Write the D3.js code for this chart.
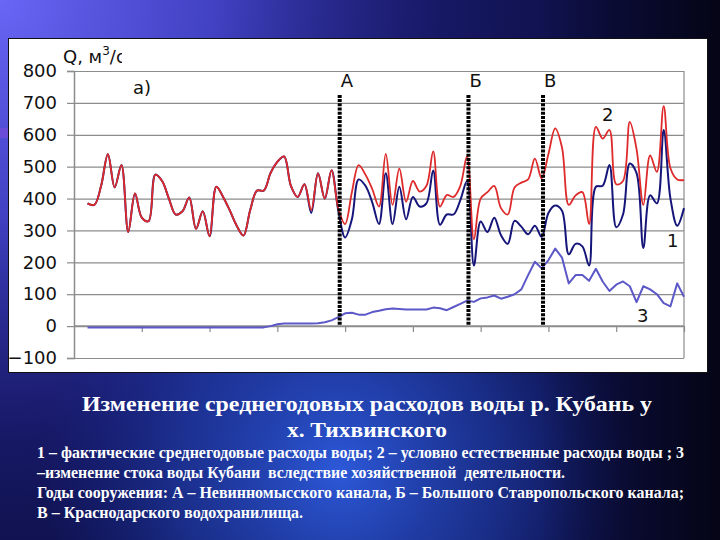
<!DOCTYPE html>
<html><head><meta charset="utf-8">
<script src="https://cdn.jsdelivr.net/npm/d3@7"></script>
<style>html,body{margin:0;padding:0;background:#0a0a30;}svg{display:block;}</style>
</head><body>
<svg id="c" width="720" height="540"></svg>
<script>
// ---- data ----
const years = [1911,1912,1913,1914,1915,1916,1917,1918,1919,1920,1921,1922,1923,1924,1925,1926,1927,1928,1929,1930,
1931,1932,1933,1934,1935,1936,1937,1938,1939,1940,1941,1942,1943,1944,1945,1946,1947,1948,1949,1950,
1951,1952,1953,1954,1955,1956,1957,1958,1959,1960,1961,1962,1963,1964,1965,1966,1967,1968,1969,1970,
1971,1972,1973,1974,1975,1976,1977,1978,1979,1980,1981,1982,1983,1984,1985,1986,1987,1988,1989,1990,
1991,1992,1993,1994,1995,1996,1997,1998,1999];
// 2 – conditionally natural discharge
const natural = [385,380,440,539,435,505,295,416,340,329,475,455,400,350,360,403,305,360,282,437,
405,362,315,284,364,425,425,480,515,532,440,405,445,364,479,400,489,369,320,420,
505,475,430,375,540,380,494,390,455,422,440,548,375,411,405,440,533,272,400,420,
440,370,350,435,450,460,525,463,540,620,560,380,410,420,320,625,588,615,445,455,
640,555,380,535,484,690,495,460,458];
// 1 – actual discharge
const actual = [385,380,440,539,435,505,295,416,340,329,475,455,400,350,360,403,305,360,282,437,
405,362,315,284,364,425,425,480,515,532,440,405,445,355,479,400,489,362,278,335,
460,440,388,320,479,320,437,335,405,375,385,488,318,350,350,395,455,190,328,295,
340,285,258,330,312,288,315,280,355,378,362,225,258,250,190,437,440,505,310,350,
510,480,245,410,385,615,400,315,370];
// 3 – change due to economic activity
const change = [-4,-4,-4,-4,-4,-4,-4,-4,-4,-4,-4,-4,-4,-4,-4,-4,-4,-4,-4,-4,
-4,-4,-4,-4,-4,-4,-4,0,6,8,8,8,8,8,9,12,18,28,40,42,
36,36,44,48,53,55,54,52,52,52,52,58,56,50,60,70,80,76,87,90,
96,86,92,100,115,160,202,181,207,243,215,134,160,160,142,180,140,110,130,140,
125,75,125,115,100,72,62,134,92];
const yTicks = [-100,0,100,200,300,400,500,600,700,800];
const xTicks = [1919,1929,1939,1949,1959,1969,1979,1989,1999];
const markerNames = ["А","Б","В"];
const markerYears = [1948.2,1967.2,1978.2];
const seriesNames = ["1","2","3"];

// ---- layout ----
const svg = d3.select("#c");
const defs = svg.append("defs");
function radial(id,cx,cy,r,stops){
  const gr = defs.append("radialGradient").attr("id",id).attr("gradientUnits","userSpaceOnUse")
    .attr("cx",cx).attr("cy",cy).attr("r",r);
  stops.forEach(s=>gr.append("stop").attr("offset",s[0]).attr("stop-color",s[1]).attr("stop-opacity",s[2]));
}
radial("tl",0,0,620,[[0,"#6a66f6",1],[0.35,"#4a4ad8",0.85],[0.7,"#2a2aa0",0.35],[1,"#1a1a70",0]]);
radial("glow",340,470,300,[[0,"#2e5ce0",0.95],[0.55,"#2244b8",0.55],[1,"#142a90",0]]);
const rs = defs.append("linearGradient").attr("id","rs").attr("x1",0).attr("y1",0).attr("x2",1).attr("y2",0);
[[0,"#000",0],[0.75,"#000",0],[1,"#000",0.7]].forEach(s=>rs.append("stop").attr("offset",s[0]).attr("stop-color",s[1]).attr("stop-opacity",s[2]));
svg.append("rect").attr("width",720).attr("height",540).attr("fill","#0e1048");
svg.append("rect").attr("width",720).attr("height",540).attr("fill","url(#tl)");
svg.append("rect").attr("width",720).attr("height",540).attr("fill","url(#glow)");
svg.append("rect").attr("width",720).attr("height",540).attr("fill","url(#rs)");
svg.append("rect").attr("x",0).attr("y",128).attr("width",10).attr("height",10).attr("fill","#6a4cd8");

// white panel
svg.append("rect").attr("x",8.5).attr("y",38.5).attr("width",699).attr("height",334).attr("fill","#fff").attr("stroke","#111").attr("stroke-width",1);

const x = d3.scaleLinear().domain([1909,1999]).range([74,684]);
const y = d3.scaleLinear().domain([-100,800]).range([358,71]);
const g = svg.append("g");

// gridlines
g.append("g").attr("transform","translate(74,0)")
 .call(d3.axisLeft(y).tickValues(yTicks).tickSize(-610).tickFormat(""))
 .call(a=>a.select(".domain").remove())
 .call(a=>a.selectAll("line").attr("stroke","#8c8c8c").attr("stroke-width",1.2));
// right border
g.append("line").attr("x1",684).attr("x2",684).attr("y1",y(800)).attr("y2",y(-100)).attr("stroke","#8c8c8c").attr("stroke-width",1.2);
// y axis
g.append("g").attr("transform","translate(74,0)")
 .call(d3.axisLeft(y).tickValues(yTicks).tickSize(7).tickPadding(10))
 .call(a=>a.select(".domain").attr("stroke","#8c8c8c").attr("stroke-width",1.5))
 .call(a=>a.selectAll("line").attr("stroke","#8c8c8c").attr("stroke-width",1.2))
 .call(a=>a.selectAll("text").attr("font-family","DejaVu Sans, Verdana, sans-serif").attr("font-size",18).attr("fill","#111"));
// x axis at zero
g.append("g").attr("transform",`translate(0,${y(0)})`)
 .call(d3.axisBottom(x).tickValues(xTicks).tickSize(6).tickFormat(""))
 .call(a=>a.select(".domain").attr("stroke","#8c8c8c").attr("stroke-width",1.5).attr("d",`M74,0H684`))
 .call(a=>a.selectAll("line").attr("stroke","#8c8c8c").attr("stroke-width",1.2));

// axis title clipped
defs.append("clipPath").attr("id","tclip").append("rect").attr("x",55).attr("y",40).attr("width",67).attr("height",30);
const tt = g.append("text").attr("clip-path","url(#tclip)").attr("x",63).attr("y",63)
 .attr("font-family","DejaVu Sans, Verdana, sans-serif").attr("font-size",18).attr("fill","#111");
tt.append("tspan").text("Q, м");
tt.append("tspan").attr("dy",-8).attr("font-size",12).text("3");
tt.append("tspan").attr("dy",8).text("/с");
g.append("text").attr("x",133).attr("y",94).attr("font-family","DejaVu Sans, Verdana, sans-serif").attr("font-size",18).attr("fill","#111").text("а)");

// lines
const smooth = d3.line().x((d,i)=>x(years[i])).y(d=>y(d)).curve(d3.curveCatmullRom.alpha(0.5));
const straight = d3.line().x((d,i)=>x(years[i])).y(d=>y(d));
g.append("path").datum(change).attr("d",straight).attr("fill","none").attr("stroke","#5c58c8").attr("stroke-width",2).attr("stroke-linejoin","round");
g.append("path").datum(actual).attr("d",smooth).attr("fill","none").attr("stroke","#16167a").attr("stroke-width",2);
g.append("path").datum(natural).attr("d",smooth).attr("fill","none").attr("stroke","#de2a2a").attr("stroke-width",1.8);

// markers
markerYears.forEach((yr,i)=>{
  g.append("line").attr("x1",x(yr)).attr("x2",x(yr)).attr("y1",y(725)).attr("y2",y(0))
   .attr("stroke","#000").attr("stroke-width",4).attr("stroke-dasharray","3,1.2");
  g.append("text").attr("x",x(yr)+1).attr("y",87).attr("font-family","DejaVu Sans, Verdana, sans-serif")
   .attr("font-size",18).attr("fill","#111").text(markerNames[i]);
});
// series labels
const lblPos = [[667,247],[602,121],[637,322]];
seriesNames.forEach((s,i)=>{
  g.append("text").attr("x",lblPos[i][0]).attr("y",lblPos[i][1]).attr("font-family","DejaVu Sans, Verdana, sans-serif")
   .attr("font-size",18).attr("fill","#111").text(s);
});

// captions
const serif = "Liberation Serif, Times New Roman, serif";
const title = ["Изменение среднегодовых расходов воды р. Кубань у","х. Тихвинского"];
svg.append("text").attr("x",367).attr("y",411).attr("text-anchor","middle").attr("font-family",serif).attr("font-weight","bold")
 .attr("font-size",21.5).attr("fill","#fff").attr("textLength",570).attr("lengthAdjust","spacingAndGlyphs").text(title[0]);
svg.append("text").attr("x",367).attr("y",437).attr("text-anchor","middle").attr("font-family",serif).attr("font-weight","bold")
 .attr("font-size",21.5).attr("fill","#fff").attr("textLength",160).attr("lengthAdjust","spacingAndGlyphs").text(title[1]);
const body = [
 ["1 – фактические среднегодовые расходы воды; 2 – условно естественные расходы воды ; 3",457.5,647],
 ["–изменение стока воды Кубани  вследствие хозяйственной  деятельности.",477.5,528],
 ["Годы сооружения: А – Невинномысского канала, Б – Большого Ставропольского канала;",497.5,647],
 ["В – Краснодарского водохранилища.",517.5,266]
];
body.forEach(b=>{
  svg.append("text").attr("x",37).attr("y",b[1]).attr("font-family",serif).attr("font-weight","bold")
   .attr("font-size",16.5).attr("fill","#fff").attr("textLength",b[2]).attr("lengthAdjust","spacingAndGlyphs")
   .attr("xml:space","preserve").text(b[0]);
});
</script>
</body></html>
